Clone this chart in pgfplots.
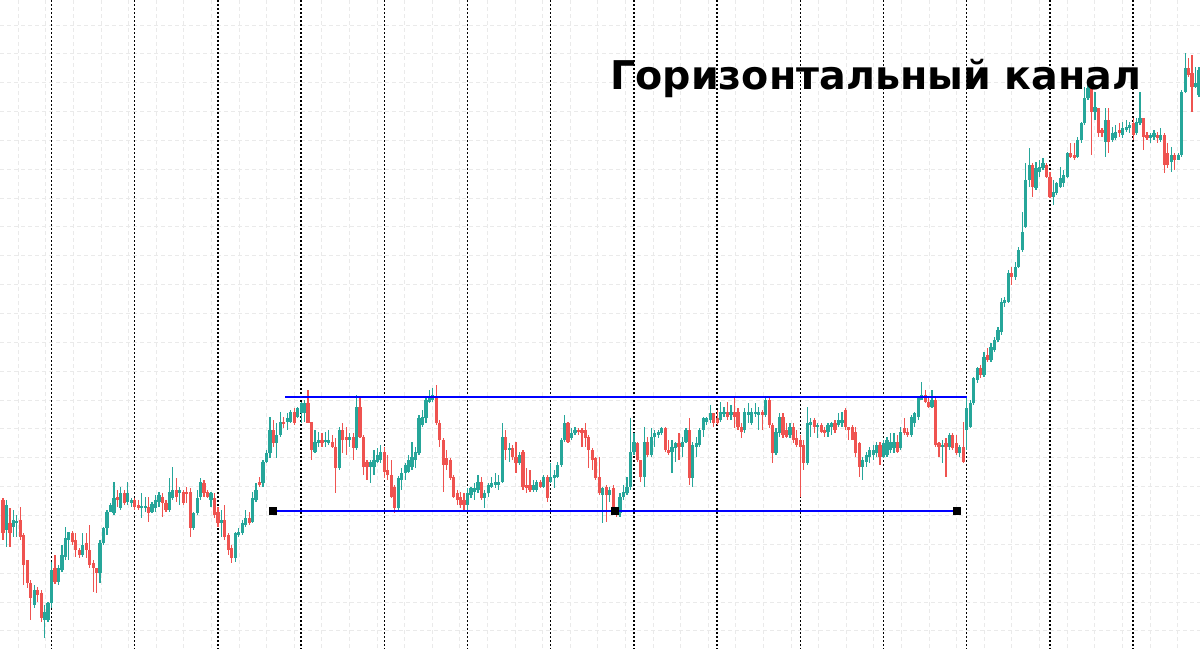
\documentclass[border=0pt]{standalone}
\usepackage{pgfplots}
\pgfplotsset{compat=1.18}
\usepackage{pgfplotstable}
\usepackage{fontspec}
\newfontfamily\titlefont{DejaVu Sans}

\definecolor{upc}{RGB}{38,166,154}
\definecolor{dnc}{RGB}{239,83,80}
\definecolor{chan}{RGB}{0,0,255}
\definecolor{gridc}{RGB}{234,234,234}

% Hourly bars: open, high, low, close (price scale runs downwards on screen)
\pgfplotstableread{
o h l c
500 498 540 533
530 500 547 505
523 508 547 533
527 510 537 520
523 515 537 521
520 507 540 537
535 533 585 565
560 560 588 583
583 580 620 598
605 585 608 590
590 587 602 595
593 590 622 618
620 605 638 612
620 602 622 603
603 562 608 570
568 555 584 582
582 565 585 568
570 545 572 555
557 527 560 538
540 532 560 532
533 531 545 542
540 533 557 550
550 548 558 555
555 533 557 545
543 533 558 550
550 525 568 565
563 560 592 568
568 568 593 573
573 540 583 543
543 527 545 528
528 510 535 512
512 503 512 505
513 482 515 498
497 490 507 500
508 487 510 493
493 490 505 503
502 482 505 493
503 498 507 500
500 498 510 507
505 500 510 508
507 493 518 506
507 497 512 506
507 497 522 513
512 502 513 504
508 495 512 500
502 492 507 495
497 493 517 503
503 500 512 510
510 478 512 492
498 467 500 490
490 478 502 497
493 487 505 490
492 490 505 503
492 487 503 493
492 488 537 528
528 512 530 513
513 490 515 498
497 478 500 482
483 480 497 493
492 490 498 497
500 492 507 493
498 493 518 515
512 507 527 523
523 510 537 520
520 505 540 537
535 533 555 550
548 545 563 558
558 532 562 533
535 528 537 532
533 520 535 523
525 510 527 518
518 512 525 523
522 492 523 498
500 483 502 490
482 477 487 485
483 460 487 462
462 450 463 453
453 417 458 430
430 420 447 443
443 423 458 435
435 412 437 422
422 417 428 423
422 413 430 418
422 410 423 412
412 408 425 423
417 407 418 408
413 402 423 403
413 400 422 403
403 390 423 423
422 422 460 450
452 430 453 442
443 432 447 440
440 433 447 443
442 432 447 440
443 430 445 440
442 435 448 447
447 438 493 468
468 427 470 430
430 423 453 440
437 427 455 440
440 433 447 437
437 433 460 448
448 395 450 407
407 398 438 437
437 435 475 467
462 460 480 467
467 460 483 462
467 450 475 460
462 448 463 455
460 445 463 452
452 447 478 472
470 455 480 475
475 460 498 497
487 485 513 508
508 476 510 478
480 468 490 473
473 463 480 465
472 455 473 460
467 442 470 457
460 447 468 452
453 415 455 418
425 410 427 417
418 398 423 400
402 390 403 398
400 388 402 395
397 385 425 423
423 420 447 440
440 438 492 465
458 450 470 465
460 458 480 478
477 475 498 497
493 490 505 500
497 492 508 505
500 493 510 505
505 488 510 493
495 487 498 488
492 483 500 488
490 475 493 482
482 477 500 498
498 490 508 493
493 483 497 485
487 477 488 483
485 473 488 482
485 475 490 482
482 423 483 437
437 430 460 450
450 443 462 448
448 445 460 457
457 442 473 463
463 452 465 455
452 450 490 487
485 468 493 488
485 470 492 490
490 480 492 485
490 480 492 482
482 480 488 487
487 475 488 477
477 475 502 498
482 463 483 477
478 470 488 475
477 462 478 465
465 438 467 440
440 415 442 423
423 422 443 442
438 428 440 433
433 427 435 430
430 428 435 432
430 428 447 433
430 423 447 438
437 435 468 450
450 448 470 460
458 457 480 478
477 457 495 493
495 487 523 488
487 485 522 495
495 487 502 490
488 485 512 508
508 507 517 513
513 493 517 497
497 485 500 492
493 477 495 487
487 418 490 452
452 433 455 442
443 442 462 460
460 460 482 477
477 427 487 442
442 437 457 455
455 428 457 437
437 430 447 433
435 430 438 432
433 427 435 428
428 427 452 450
450 440 455 453
452 440 473 447
448 442 462 443
443 433 460 447
447 437 457 442
442 428 443 430
430 418 485 478
478 442 487 445
447 437 457 443
445 428 447 430
430 417 437 418
422 417 425 418
420 405 423 413
413 413 427 423
418 410 425 423
420 402 422 412
413 407 417 412
412 402 420 417
415 405 420 412
412 398 428 417
412 408 430 427
427 423 438 432
430 408 433 412
415 403 423 412
423 408 425 412
413 403 417 412
415 407 430 412
412 410 430 415
415 398 417 400
400 398 428 425
425 423 463 453
453 428 455 432
433 413 437 417
417 413 438 435
430 423 438 437
435 423 438 427
427 423 443 440
438 430 447 445
440 435 497 447
445 440 470 463
463 407 465 423
425 418 437 422
420 418 433 427
427 423 438 425
425 423 433 432
430 427 437 433
432 423 437 425
427 422 435 423
423 420 433 430
425 413 427 420
423 412 427 420
410 408 430 427
427 427 440 430
427 425 440 440
432 427 457 453
443 442 477 467
467 457 480 460
462 452 467 455
457 447 463 450
455 445 460 450
453 442 457 445
445 442 465 457
457 440 458 443
455 437 457 440
450 433 453 442
448 433 453 442
442 435 453 452
448 427 450 432
428 418 435 433
432 428 437 435
435 415 437 417
423 412 427 413
417 397 420 398
400 382 400 395
395 390 403 402
402 397 408 407
407 390 408 400
400 398 447 445
443 442 457 447
447 440 463 445
443 438 477 447
447 433 450 435
435 433 450 448
443 435 455 453
453 445 457 447
447 422 463 462
430 398 450 408
427 400 428 403
403 377 405 378
380 367 383 368
368 365 378 375
375 352 377 357
355 348 362 360
360 343 362 347
350 337 352 340
340 327 342 330
332 298 335 302
303 297 307 300
302 270 303 273
273 267 285 277
277 262 280 267
267 247 268 250
250 212 252 232
227 163 228 180
180 148 187 165
165 163 197 187
188 162 190 168
172 160 177 167
168 158 170 163
165 163 178 177
177 172 198 197
197 180 205 192
193 182 195 183
187 167 188 178
183 170 187 175
177 152 178 153
153 143 158 157
155 143 160 158
157 137 158 140
140 122 143 123
123 87 125 98
98 85 100 88
87 83 155 112
112 92 120 107
108 108 137 133
130 128 137 133
142 108 157 120
120 108 153 142
140 127 142 133
138 125 140 132
130 123 137 133
135 122 138 128
130 120 132 127
128 122 133 125
123 118 140 135
133 118 135 122
123 92 125 118
118 118 150 137
135 132 140 138
138 133 143 135
137 130 140 133
135 132 143 138
140 128 142 135
135 133 173 165
153 143 168 165
162 147 172 155
155 153 170 160
160 153 160 155
155 90 157 92
92 53 93 68
68 58 77 75
73 55 112 87
87 67 88 83
95 67 97 70
}\bars

\begin{document}
\begin{tikzpicture}
\begin{axis}[
  scale only axis, width=600pt, height=324.5pt,
  xmin=-0.856, xmax=345.29, ymin=0, ymax=649, y dir=reverse,
  axis line style={draw=none},
  xtick={4.423,12.385,...,345}, ytick={25,53.85,...,640},
  xticklabels={}, yticklabels={},
  major tick length=0pt,
  grid=major,
  major grid style={gridc, line width=0.5pt, dash pattern=on 2pt off 1.5pt},
  extra x ticks={14,38,...,326},
  extra x tick labels={},
  extra x tick style={grid=major, major grid style={black, line width=0.75pt, dash pattern=on 1pt off 1pt}},
  error bars/error mark=none,
]
% wicks
\addplot[draw=none, mark=none, forget plot,
  error bars/.cd, y dir=both, y explicit,
  error bar style={draw=upc, line width=0.6pt}]
  table[x expr=\coordindex,
        y expr={\thisrow{c}<\thisrow{o} ? (\thisrow{h}+\thisrow{l})/2 : nan},
        y error expr={(\thisrow{l}-\thisrow{h})/2}] {\bars};
\addplot[draw=none, mark=none, forget plot,
  error bars/.cd, y dir=both, y explicit,
  error bar style={draw=dnc, line width=0.6pt}]
  table[x expr=\coordindex,
        y expr={\thisrow{c}<\thisrow{o} ? nan : (\thisrow{h}+\thisrow{l})/2},
        y error expr={(\thisrow{l}-\thisrow{h})/2}] {\bars};
% bodies
\addplot[draw=none, mark=none, forget plot,
  error bars/.cd, y dir=both, y explicit,
  error bar style={draw=upc, line width=1.6pt}]
  table[x expr=\coordindex,
        y expr={\thisrow{c}<\thisrow{o} ? (\thisrow{o}+\thisrow{c})/2 : nan},
        y error expr={max(abs(\thisrow{o}-\thisrow{c})/2,0.6)}] {\bars};
\addplot[draw=none, mark=none, forget plot,
  error bars/.cd, y dir=both, y explicit,
  error bar style={draw=dnc, line width=1.6pt}]
  table[x expr=\coordindex,
        y expr={\thisrow{c}<\thisrow{o} ? nan : (\thisrow{o}+\thisrow{c})/2},
        y error expr={max(abs(\thisrow{o}-\thisrow{c})/2,0.6)}] {\bars};
% channel borders
\addplot[chan, line width=1pt, mark=none] coordinates {(81.36,397) (278.08,397)};
\addplot[chan, line width=1pt, mark=square*, mark size=1.4pt,
  mark options={fill=black, draw=black}] coordinates {(77.89,511) (176.55,511) (275.2,511)};
\node[anchor=base west, inner sep=0pt,
  font=\titlefont\fontsize{19.8pt}{22pt}\selectfont\bfseries]
  at (axis cs:175.1,89) {Горизонтальный канал};
\end{axis}
\pgfresetboundingbox
\path[use as bounding box] (current axis.south west) rectangle (current axis.north east);
\end{tikzpicture}
\end{document}
